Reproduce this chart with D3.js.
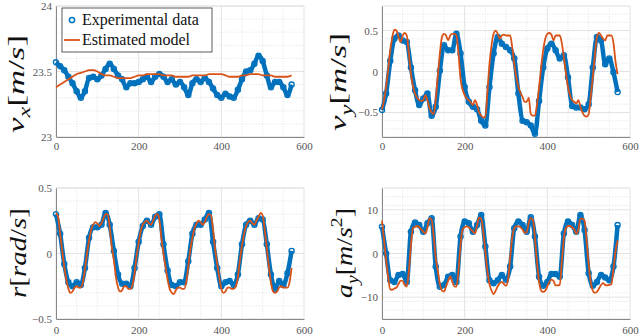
<!DOCTYPE html>
<html><head><meta charset="utf-8">
<script src="https://cdn.jsdelivr.net/npm/d3@7"></script>
<style>
body{margin:0;background:#fff}
svg{display:block}
</style></head><body>
<svg id="chart" width="640" height="335"></svg>
<script>
// sample index (x axis) for the two kinds of series
const tExp = d3.range(0, 571, 10)
const tModel = d3.range(0, 571, 5)
const xTicks = [0, 200, 400, 600]

// v_x  [m/s]
const vxExp = [23.57,23.54,23.51,23.46,23.41,23.35,23.30,23.35,23.45,23.46,
  23.44,23.47,23.52,23.56,23.52,23.47,23.44,23.38,23.41,23.41,
  23.42,23.44,23.46,23.42,23.46,23.48,23.46,23.42,23.44,23.40,
  23.42,23.38,23.32,23.41,23.44,23.42,23.45,23.42,23.37,23.32,
  23.30,23.33,23.31,23.30,23.36,23.44,23.50,23.51,23.56,23.62,
  23.58,23.47,23.38,23.42,23.42,23.38,23.32,23.40]
const vxModel = [23.38,23.40,23.42,23.44,23.46,23.48,23.49,23.50,23.51,23.51,
  23.50,23.48,23.47,23.47,23.46,23.45,23.45,23.45,23.45,23.46,
  23.47,23.47,23.48,23.48,23.48,23.48,23.47,23.47,23.47,23.46,
  23.46,23.46,23.46,23.47,23.47,23.47,23.47,23.48,23.48,23.48,
  23.48,23.47,23.46,23.46,23.46,23.47,23.47,23.48,23.48,23.48,
  23.47,23.47,23.47,23.46,23.46,23.46,23.46,23.47]

// v_y  [m/s]
const vyExp = [-0.47,-0.27,0.13,0.40,0.44,0.38,0.36,0.05,-0.23,-0.41,
  -0.33,-0.27,-0.54,-0.43,0.01,0.32,0.26,0.26,0.46,0.22,
  -0.19,-0.37,-0.43,-0.46,-0.60,-0.66,-0.19,0.22,0.42,0.34,
  0.30,0.26,0.16,-0.27,-0.60,-0.62,-0.66,-0.76,-0.36,0.05,
  0.28,0.34,0.26,0.16,0.20,-0.07,-0.42,-0.44,-0.44,-0.46,
  -0.40,0.05,0.42,0.38,0.09,0.16,-0.01,-0.25]
const vyModel = [-0.46,-0.35,-0.19,0.03,0.26,0.42,0.51,0.50,0.42,0.36,
  0.44,0.47,0.44,0.22,-0.03,-0.18,-0.27,-0.32,-0.35,-0.36,
  -0.35,-0.29,-0.35,-0.45,-0.50,-0.52,-0.35,-0.05,0.22,0.42,
  0.46,0.44,0.38,0.44,0.46,0.46,0.44,0.22,-0.09,-0.22,
  -0.29,-0.33,-0.35,-0.38,-0.41,-0.35,-0.41,-0.50,-0.54,-0.56,
  -0.56,-0.25,0.09,0.32,0.46,0.50,0.46,0.40,0.44,0.45,
  0.44,0.44,0.44,0.30,0.09,-0.07,-0.19,-0.26,-0.31,-0.37,
  -0.37,-0.32,-0.52,-0.54,-0.54,-0.40,-0.19,0.05,0.26,0.40,
  0.46,0.47,0.45,0.38,0.44,0.44,0.44,0.35,0.17,-0.02,
  -0.19,-0.29,-0.35,-0.37,-0.39,-0.35,-0.43,-0.50,-0.54,-0.55,
  -0.52,-0.30,-0.07,0.20,0.42,0.47,0.44,0.40,0.38,0.44,
  0.44,0.44,0.35,0.12,-0.03]

// r  [rad/s]
const rExp = [0.30,0.15,-0.08,-0.22,-0.25,-0.22,-0.24,-0.11,0.12,0.20,
  0.20,0.22,0.31,0.22,0.02,-0.16,-0.23,-0.23,-0.25,-0.11,
  0.09,0.21,0.25,0.22,0.28,0.30,0.07,-0.13,-0.24,-0.25,
  -0.22,-0.22,-0.06,0.15,0.22,0.22,0.26,0.31,0.09,-0.11,
  -0.25,-0.22,-0.21,-0.24,-0.16,0.07,0.22,0.25,0.22,0.27,
  0.26,0.07,-0.16,-0.27,-0.21,-0.24,-0.15,0.02]
const rModel = [0.31,0.28,0.15,0.02,-0.10,-0.20,-0.27,-0.30,-0.29,-0.26,
  -0.25,-0.26,-0.26,-0.22,-0.12,0.00,0.10,0.18,0.22,0.24,
  0.23,0.21,0.23,0.27,0.30,0.30,0.20,0.05,-0.05,-0.18,
  -0.26,-0.29,-0.28,-0.25,-0.25,-0.27,-0.27,-0.24,-0.15,-0.02,
  0.08,0.17,0.22,0.24,0.25,0.23,0.22,0.25,0.29,0.30,
  0.26,0.12,0.00,-0.10,-0.20,-0.27,-0.30,-0.31,-0.28,-0.26,
  -0.26,-0.27,-0.27,-0.22,-0.10,0.03,0.12,0.19,0.23,0.25,
  0.24,0.22,0.24,0.28,0.30,0.29,0.18,0.03,-0.08,-0.18,
  -0.27,-0.30,-0.29,-0.26,-0.26,-0.27,-0.27,-0.25,-0.18,-0.05,
  0.06,0.15,0.21,0.24,0.25,0.23,0.22,0.25,0.28,0.31,
  0.29,0.18,0.04,-0.10,-0.22,-0.29,-0.30,-0.29,-0.26,-0.25,
  -0.26,-0.26,-0.26,-0.22,-0.11]

// a_y  [m/s^2]
const ayExp = [6.1,0.0,-6.1,-6.5,-4.9,-4.7,-6.5,5.0,7.1,6.5,
  5.0,6.9,8.1,-3.0,-7.6,-7.2,-5.3,-4.9,-6.5,3.9,
  7.3,6.9,5.0,6.5,8.8,1.6,-6.1,-6.8,-6.1,-4.9,
  -6.0,-3.0,5.8,7.3,6.5,5.0,8.3,3.9,-5.3,-7.4,
  -6.5,-4.7,-4.7,-5.3,4.6,7.3,6.5,5.0,8.8,5.4,
  -4.5,-7.4,-6.5,-4.9,-5.5,-6.1,-3.0,6.5]
const ayModel = [7.5,3.0,-1.5,-5.5,-8.2,-8.3,-8.0,-7.8,-7.0,-6.2,
  -6.3,-7.2,-7.6,-4.0,2.0,5.8,6.1,6.3,6.0,5.5,
  5.0,4.6,6.0,8.1,7.8,4.0,-1.0,-4.0,-7.0,-8.5,
  -8.7,-7.5,-6.3,-5.2,-6.5,-7.5,-7.6,-4.0,2.0,5.5,
  6.0,6.2,6.0,5.5,5.0,4.6,6.5,8.2,8.0,5.0,
  0.5,-4.0,-7.0,-8.5,-9.3,-8.5,-7.5,-6.8,-6.5,-7.0,
  -7.4,-6.0,-1.0,3.5,5.8,6.2,6.2,6.0,5.5,4.8,
  4.8,7.0,8.1,7.8,3.5,-2.0,-6.5,-8.5,-8.8,-8.5,
  -7.5,-6.5,-6.0,-6.3,-7.3,-7.3,-7.2,-2.0,3.5,5.8,
  6.3,6.3,6.0,5.5,4.5,5.5,8.0,8.0,7.5,3.0,
  -2.5,-6.5,-8.5,-9.0,-8.8,-8.0,-7.2,-6.8,-7.2,-7.3,
  -7.2,-7.0,-3.5,0.5,3.0]

const legendLabels = ["Experimental data", "Estimated model"]
const blue = "#0072BD", orange = "#D95319"

// pick the first serif face that is actually installed
function pickFont(cands){
  var c = document.createElement("canvas").getContext("2d")
  var s = "Experimental data 0123456789 mrs"
  c.font = "40px monospace"
  var base = c.measureText(s).width
  for(var i=0;i<cands.length;i++){
    c.font = '40px "'+cands[i]+'", monospace'
    if(Math.abs(c.measureText(s).width - base) > 0.5) return '"'+cands[i]+'"'
  }
  return "serif"
}
const serif = pickFont(["Liberation Serif","DejaVu Serif","Tinos","Noto Serif","Times New Roman","FreeSerif","Nimbus Roman","Times"])

var svg = d3.select("#chart")
var W = 248, H = 131

var panels = [
  {left:56, top:6, domain:[23,24], ticks:[23,23.5,24], minor:0.1, fmt:d3.format(".1~f"),
   exp:vxExp, model:vxModel, modelT:tExp, label:[["v","i"],["x","sub"],["[","n"],["m","i"],["/","n"],["s","i"],["]","n"]], lx:24, ly:84, len:98},
  {left:382, top:6, domain:[-0.8,0.8], ticks:[-0.5,0,0.5], minor:0.1, fmt:d3.format(".1~f"),
   exp:vyExp, model:vyModel, modelT:tModel, label:[["v","i"],["y","sub"],["[","n"],["m","i"],["/","n"],["s","i"],["]","n"]], lx:346, ly:82, len:98},
  {left:56, top:188, domain:[-0.5,0.5], ticks:[-0.5,0,0.5], minor:0.1, fmt:d3.format(".1~f"),
   exp:rExp, model:rModel, modelT:tModel, label:[["r","i"],["[","n"],["rad","i"],["/","n"],["s","i"],["]","n"]], lx:26, ly:253, len:90},
  {left:382, top:188, domain:[-15,15], ticks:[-10,0,10], minor:2, fmt:d3.format("d"),
   exp:ayExp, model:ayModel, modelT:tModel, label:[["a","i"],["y","sub"],["[","n"],["m","i"],["/","n"],["s","i"],["2","sup"],["]","n"]], lx:352, ly:253, len:90}
]

panels.forEach(function(p){
  var x = d3.scaleLinear().domain([0,600]).range([0,W])
  var y = d3.scaleLinear().domain(p.domain).range([H,0])
  var g = svg.append("g").attr("transform","translate("+p.left+","+p.top+")")

  // minor grid
  var xMinor = d3.range(0,601,50).filter(function(v){ return xTicks.indexOf(v) < 0 })
  var yMinor = d3.range(p.domain[0], p.domain[1]+p.minor/2, p.minor)
    .filter(function(v){ return !p.ticks.some(function(t){ return Math.abs(t-v) < 1e-6 }) })
  g.selectAll(".mx").data(xMinor).enter().append("line")
    .attr("x1",x).attr("x2",x).attr("y1",0).attr("y2",H)
    .attr("stroke","#d8d8d8").attr("stroke-width",0.7).attr("stroke-dasharray","1,1.5")
  g.selectAll(".my").data(yMinor).enter().append("line")
    .attr("y1",y).attr("y2",y).attr("x1",0).attr("x2",W)
    .attr("stroke","#d8d8d8").attr("stroke-width",0.7).attr("stroke-dasharray","1,1.5")
  // major grid
  g.selectAll(".gx").data(xTicks).enter().append("line")
    .attr("x1",x).attr("x2",x).attr("y1",0).attr("y2",H)
    .attr("stroke","#e2e2e2").attr("stroke-width",1)
  g.selectAll(".gy").data(p.ticks.concat(p.domain)).enter().append("line")
    .attr("y1",y).attr("y2",y).attr("x1",0).attr("x2",W)
    .attr("stroke","#e2e2e2").attr("stroke-width",1)

  // axes
  var xAxis = d3.axisBottom(x).tickValues(xTicks).tickSize(0).tickPadding(p.top > 100 ? 7 : 5)
  var yAxis = d3.axisLeft(y).tickValues(p.ticks).tickFormat(p.fmt).tickSize(0).tickPadding(4)
  g.append("g").attr("transform","translate(0,"+H+")").call(xAxis)
    .attr("font-family",serif).attr("font-size",11)
    .call(function(s){ s.select(".domain").attr("stroke","#888"); s.selectAll("text").attr("fill","#555") })
  g.append("g").call(yAxis)
    .attr("font-family",serif).attr("font-size",11)
    .call(function(s){ s.select(".domain").attr("stroke","#888"); s.selectAll("text").attr("fill","#555") })

  // experimental data: thick band + ring markers
  var pts = tExp.map(function(t,i){ return [t, p.exp[i]] })
  g.append("path").datum(pts)
    .attr("d", d3.line().x(function(d){ return x(d[0]) }).y(function(d){ return y(d[1]) }).curve(d3.curveMonotoneX))
    .attr("fill","none").attr("stroke",blue).attr("stroke-width",4.5).attr("stroke-linejoin","round")
  g.selectAll(".dot").data(pts).enter().append("circle")
    .attr("cx",function(d){ return x(d[0]) }).attr("cy",function(d){ return y(d[1]) })
    .attr("r",2.6).attr("fill","none").attr("stroke",blue).attr("stroke-width",1.3)

  // model
  var mpts = p.modelT.map(function(t,i){ return [t, p.model[i]] })
  g.append("path").datum(mpts)
    .attr("d", d3.line().x(function(d){ return x(d[0]) }).y(function(d){ return y(d[1]) }).curve(d3.curveMonotoneX))
    .attr("fill","none").attr("stroke",orange).attr("stroke-width",1.8).attr("stroke-linejoin","round")

  // y label, stretched along its length to the reference footprint
  var lab = svg.append("text")
    .attr("font-family",serif).attr("fill","#111")
    .attr("text-anchor","middle").attr("font-size",24)
  var shift = 0
  p.label.forEach(function(part){
    var ts = lab.append("tspan").text(part[0])
    if(part[1]=="i") ts.attr("font-style","italic")
    var dy = 0
    if(part[1]=="sub"){ ts.attr("font-style","italic").attr("font-size",17); dy = 6 }
    if(part[1]=="sup"){ ts.attr("font-size",17); dy = -10 }
    ts.attr("dy", dy - shift)
    shift = dy
  })
  var sx = p.len / lab.node().getComputedTextLength()
  lab.attr("transform","translate("+p.lx+","+p.ly+") rotate(-90) scale("+sx.toFixed(3)+",1)")
})

// legend
var leg = svg.append("g").attr("transform","translate(62,8)")
leg.append("rect").attr("width",150).attr("height",44).attr("fill","#fff").attr("stroke","#333").attr("stroke-width",0.8)
leg.append("circle").attr("cx",10).attr("cy",12).attr("r",2.6).attr("fill","none").attr("stroke",blue).attr("stroke-width",1.5)
leg.append("line").attr("x1",2).attr("x2",18).attr("y1",32).attr("y2",32).attr("stroke",orange).attr("stroke-width",1.8)
leg.selectAll(".lt").data(legendLabels).enter().append("text")
  .attr("font-family",serif).attr("font-size",16).attr("fill","#111")
  .attr("x",20).attr("y",function(d,i){ return 17 + i*20 }).text(function(d){ return d })
</script>
</body></html>
